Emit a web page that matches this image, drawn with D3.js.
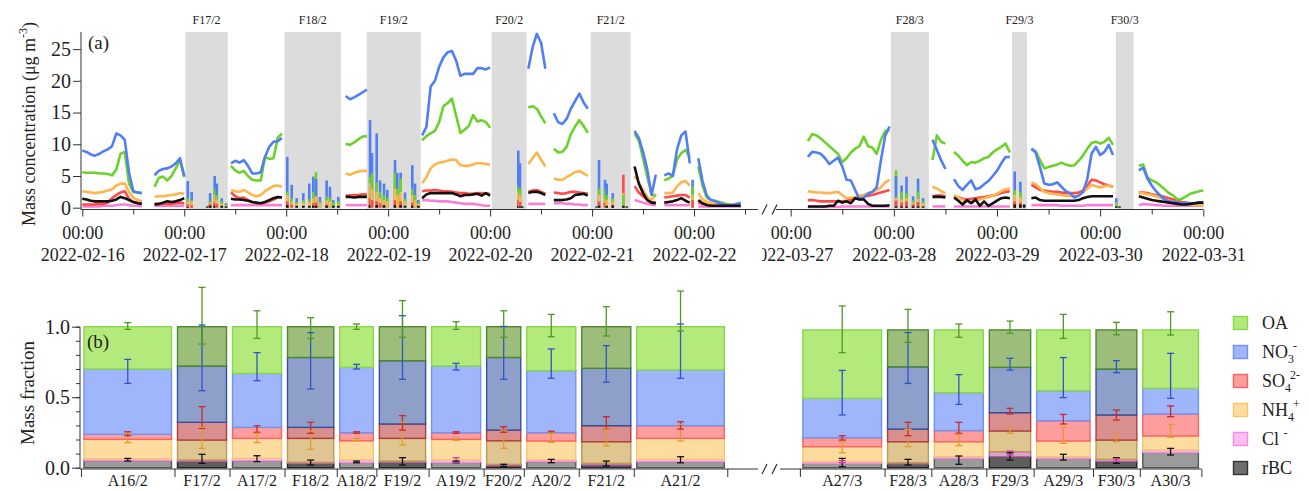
<!DOCTYPE html>
<html>
<head>
<meta charset="utf-8">
<script src="https://cdn.jsdelivr.net/npm/d3@7"></script>
<style>
  body { margin: 0; background: #fff; }
  text { font-family: "Liberation Serif", "Times New Roman", serif; fill: #222; }
</style>
</head>
<body>
<svg id="chart" width="1309" height="491"></svg>
<script>
// ---------- panel (a): hourly segments of continuous ambient data ----------
const segStart = [
  '2022-02-16 00:00', '2022-02-16 17:00', '2022-02-17 11:00', '2022-02-18 14:00',
  '2022-02-19 08:00', '2022-02-20 09:00', '2022-02-20 15:00', '2022-02-21 10:00',
  '2022-02-21 17:00', '2022-02-22 01:00',
  '2022-03-27 04:00', '2022-03-28 09:00', '2022-03-28 14:00', '2022-03-29 08:00',
  '2022-03-30 09:00'
];

const segNO3 = [
  [9.0, 8.8, 8.4, 8.2, 8.5, 8.9, 9.2, 9.7, 11.7, 11.4, 10.7, 5.5, 2.6, 2.4, 2.3],
  [5.1, 5.8, 6.1, 6.2, 6.5, 7.0, 7.8, 5.0],
  [7.0, 7.4, 7.1, 7.5, 6.6, 5.4, 5.4, 5.6, 8.0, 9.6, 10.4, 10.5, 11.0],
  [17.6, 17.1, 17.4, 17.8, 18.2, 18.6],
  [11.4, 12.7, 19.1, 20.0, 22.2, 23.7, 24.5, 24.7, 23.2, 20.8, 21.1, 21.1, 21.1, 22.0, 22.0, 21.8, 22.1],
  [21.9, 25.3, 27.4, 26.0, 21.9],
  [14.9, 13.5, 13.2, 14.0, 15.6, 16.8, 18.0, 16.6, 15.6],
  [12.1, 11.0, 8.8, 6.0, 2.0, 5.2],
  [5.1, 5.4, 5.0, 9.2, 11.4, 12.0, 7.0],
  [7.8, 4.2, 1.9, 1.2, 1.0, 0.7, 0.5, 0.4, 0.4, 0.6, 0.8],
  [8.0, 8.8, 8.7, 8.5, 7.8, 6.9, 7.4, 7.9, 6.5, 4.4, 4.3, 2.8, 1.3, 1.6, 2.2, 2.5, 3.2, 7.5, 11.4, 12.8],
  [10.7, 9.1, 7.5, 6.1],
  [4.5, 3.4, 2.8, 3.6, 4.3, 2.9, 3.1, 3.7, 4.2, 5.0, 5.8, 7.0, 8.0, 8.0],
  [9.3, 8.7, 6.4, 3.8, 3.6, 3.7, 4.0, 3.3, 2.6, 2.3, 1.6, 1.9, 2.5, 4.5, 8.5, 9.6, 8.3, 8.8, 9.9, 8.3],
  [5.9, 6.3, 4.6, 3.5, 2.6, 1.9, 1.3, 1.0, 0.9, 0.8, 0.7, 0.7, 0.7, 0.7, 0.8, 0.8]
];

const segOA = [
  [5.6, 5.5, 5.5, 5.5, 5.4, 5.4, 5.3, 5.1, 6.0, 8.5, 8.8, 3.8, 2.5, 2.4, 2.3],
  [3.3, 4.7, 4.9, 4.3, 5.0, 6.2, 7.5, 4.8],
  [6.6, 5.9, 5.5, 5.8, 5.0, 4.4, 4.3, 4.3, 8.0, 7.7, 7.8, 11.0, 11.7],
  [10.1, 9.9, 10.3, 10.8, 11.2, 11.3],
  [10.6, 11.3, 11.7, 12.1, 13.5, 16.0, 16.5, 17.2, 14.5, 11.8, 12.3, 12.9, 14.6, 13.6, 13.8, 13.5, 12.6],
  [15.8, 16.0, 15.6, 14.4, 13.3],
  [9.3, 8.7, 8.8, 9.6, 11.6, 12.8, 13.8, 12.9, 11.8],
  [11.7, 10.6, 7.8, 4.8, 2.2, 1.8],
  [4.3, 4.6, 5.0, 7.6, 8.6, 9.1, 8.0],
  [6.5, 3.5, 1.6, 1.2, 1.1, 0.9, 0.7, 0.5, 0.4, 0.5, 0.6],
  [10.5, 11.6, 11.4, 10.9, 10.3, 9.7, 9.1, 8.5, 7.2, 7.8, 8.7, 9.3, 9.7, 11.2, 9.7, 9.5, 8.5, 10.7, 12.1, 12.2],
  [7.5, 11.4, 10.4, 10.1],
  [8.8, 8.2, 7.4, 6.7, 7.2, 7.1, 7.4, 7.8, 8.0, 8.7, 9.2, 9.6, 10.1, 8.7],
  [9.3, 8.9, 7.5, 6.2, 6.4, 6.6, 6.8, 7.1, 6.8, 6.6, 6.7, 7.4, 8.2, 9.3, 10.2, 10.4, 10.1, 10.4, 11.0, 9.9],
  [6.6, 6.8, 4.8, 4.3, 4.0, 3.5, 2.9, 2.3, 1.9, 1.3, 1.4, 1.8, 2.2, 2.4, 2.6, 2.7]
];

const segNH4 = [
  [2.6, 2.5, 2.4, 2.3, 2.4, 2.5, 2.7, 2.9, 3.5, 3.8, 3.8, 2.5, 1.6, 1.2, 1.0],
  [1.7, 1.8, 1.8, 1.9, 2.0, 2.1, 2.3, 2.2],
  [2.8, 2.6, 2.5, 2.8, 2.4, 2.0, 1.8, 2.0, 2.6, 3.0, 3.4, 3.5, 3.3],
  [5.4, 5.2, 5.5, 5.7, 5.8, 5.8],
  [3.9, 4.8, 6.2, 6.8, 7.1, 7.2, 7.4, 7.6, 7.5, 6.7, 6.6, 6.6, 6.8, 7.0, 7.0, 6.9, 6.8],
  [6.9, 7.8, 8.7, 7.6, 6.5],
  [4.6, 4.4, 4.4, 4.8, 5.2, 5.6, 5.8, 5.4, 5.0],
  [5.0, 4.0, 2.8, 1.7, 1.2, 2.2],
  [2.3, 2.3, 2.4, 3.4, 4.0, 4.2, 3.5],
  [2.3, 1.3, 0.9, 0.7, 0.6, 0.5, 0.4, 0.4, 0.4, 0.4, 0.4],
  [2.6, 2.5, 2.4, 2.4, 2.3, 2.3, 2.4, 2.5, 2.0, 1.5, 1.6, 1.7, 1.9, 2.0, 2.3, 2.5, 2.8, 3.2, 4.0, 4.4],
  [3.3, 3.0, 2.6, 2.3],
  [2.0, 1.6, 1.2, 1.0, 1.0, 1.1, 1.3, 1.5, 1.7, 1.9, 2.2, 2.6, 2.9, 3.0],
  [4.0, 3.7, 3.1, 2.5, 2.3, 2.2, 2.1, 2.0, 1.9, 1.8, 1.8, 1.9, 2.4, 3.0, 3.6, 3.4, 3.2, 3.4, 3.5, 3.2],
  [2.3, 2.3, 2.1, 2.0, 1.8, 1.6, 1.3, 1.1, 0.9, 0.7, 0.6, 0.5, 0.5, 0.4, 0.4, 0.4]
];

const segSO4 = [
  [0.5, 0.5, 0.5, 0.5, 0.6, 0.6, 0.8, 1.5, 2.0, 2.4, 2.6, 1.4, 0.9, 0.8, 0.7],
  [0.6, 0.6, 0.6, 0.6, 0.6, 0.7, 0.8, 0.7],
  [2.4, 1.8, 1.5, 1.6, 1.2, 0.9, 0.7, 0.7, 0.8, 1.0, 1.3, 1.6, 1.6],
  [1.9, 1.9, 2.0, 2.0, 2.1, 2.1],
  [2.6, 2.7, 2.7, 2.8, 2.7, 2.6, 2.6, 2.5, 2.4, 2.3, 2.3, 2.2, 2.2, 2.3, 2.3, 2.2, 2.2],
  [2.5, 2.7, 2.8, 2.5, 2.2],
  [2.4, 2.3, 2.2, 2.3, 2.5, 2.5, 2.4, 2.3, 2.2],
  [3.4, 2.4, 1.8, 1.2, 0.9, 0.8],
  [1.6, 1.7, 1.8, 1.9, 2.0, 2.0, 1.6],
  [0.8, 0.6, 0.5, 0.4, 0.4, 0.4, 0.4, 0.4, 0.4, 0.4, 0.4],
  [1.2, 1.2, 1.1, 1.0, 1.0, 1.0, 1.0, 1.0, 1.0, 1.1, 1.3, 1.5, 1.6, 1.8, 1.9, 2.0, 2.2, 2.4, 2.6, 2.8],
  [1.8, 1.9, 1.9, 1.8],
  [1.8, 1.6, 1.4, 1.3, 1.4, 1.5, 1.6, 1.7, 1.8, 1.9, 2.1, 2.3, 2.5, 2.6],
  [3.6, 3.2, 2.8, 2.7, 2.6, 2.5, 2.5, 2.4, 2.3, 2.3, 2.3, 2.4, 2.7, 3.5, 4.4, 4.3, 4.0, 3.7, 3.5, 3.3],
  [2.4, 2.4, 2.3, 2.1, 2.0, 1.9, 1.7, 1.5, 1.3, 1.1, 0.9, 0.8, 0.7, 0.7, 0.7, 0.6]
];

const segRBC = [
  [1.4, 1.3, 1.1, 1.0, 1.0, 1.0, 1.0, 1.1, 1.3, 1.7, 1.5, 1.2, 0.9, 0.7, 0.6],
  [0.5, 0.6, 0.8, 1.0, 0.9, 1.0, 1.2, 1.5],
  [1.4, 1.3, 1.3, 1.2, 1.1, 0.9, 0.8, 0.7, 0.9, 1.2, 1.5, 1.7, 1.6],
  [1.7, 1.7, 1.6, 1.7, 1.7, 1.7],
  [1.5, 2.1, 2.3, 2.3, 2.3, 2.3, 2.3, 2.3, 2.1, 1.8, 2.0, 2.0, 2.1, 2.2, 1.9, 2.3, 1.9],
  [2.3, 2.5, 2.5, 2.3, 2.0],
  [1.2, 1.2, 1.2, 1.3, 1.5, 2.0, 2.1, 2.2, 1.9],
  [6.5, 3.8, 2.3, 1.2, 0.8, 0.7],
  [0.8, 0.9, 1.0, 1.2, 1.5, 1.1, 0.8],
  [1.2, 0.7, 0.4, 0.3, 0.3, 0.3, 0.3, 0.3, 0.3, 0.3, 0.3],
  [0.2, 0.2, 0.2, 0.2, 0.2, 0.3, 0.3, 1.1, 0.8, 1.0, 0.7, 1.5, 1.3, 1.3, 0.6, 0.3, 0.3, 0.3, 0.3, 0.4],
  [1.7, 1.7, 1.7, 1.6],
  [1.6, 1.1, 0.5, 1.2, 0.7, 1.3, 0.3, 1.0, 0.3, 0.7, 1.1, 1.5, 1.6, 1.5],
  [1.5, 1.6, 1.2, 1.1, 1.1, 1.1, 1.1, 1.1, 1.1, 1.1, 1.1, 1.2, 1.5, 1.7, 1.8, 1.8, 1.8, 1.8, 1.8, 1.8],
  [1.8, 1.6, 1.4, 1.2, 1.1, 1.0, 0.9, 0.8, 0.7, 0.6, 0.5, 0.5, 0.6, 0.7, 0.8, 0.8]
];

const segCl = [
  [0.2, 0.2, 0.2, 0.2, 0.2, 0.3, 0.3, 0.3, 0.4, 0.5, 0.5, 0.4, 0.3, 0.3, 0.2],
  [0.3, 0.3, 0.3, 0.3, 0.3, 0.3, 0.3, 0.3],
  [0.4, 0.4, 0.4, 0.4, 0.4, 0.4, 0.4, 0.4, 0.4, 0.4, 0.4, 0.4, 0.4],
  [0.4, 0.4, 0.4, 0.4, 0.4, 0.4],
  [1.2, 1.2, 1.1, 1.1, 1.0, 1.0, 1.0, 0.9, 0.8, 0.7, 0.6, 0.6, 0.6, 0.5, 0.4, 0.3, 0.3],
  [0.6, 0.6, 0.6, 0.6, 0.6],
  [0.7, 0.7, 0.7, 0.6, 0.6, 0.5, 0.5, 0.4, 0.4],
  [1.2, 1.0, 0.8, 0.6, 0.5, 0.4],
  [0.4, 0.4, 0.4, 0.4, 0.4, 0.4, 0.4],
  [0.2, 0.2, 0.2, 0.2, 0.2, 0.2, 0.2, 0.2, 0.2, 0.2, 0.2],
  [0.1, 0.1, 0.1, 0.1, 0.1, 0.1, 0.1, 0.1, 0.2, 0.2, 0.2, 0.2, 0.2, 0.2, 0.2, 0.2, 0.2, 0.2, 0.2, 0.2],
  [0.2, 0.2, 0.2, 0.2],
  [0.2, 0.2, 0.2, 0.2, 0.2, 0.2, 0.2, 0.2, 0.2, 0.2, 0.2, 0.2, 0.2, 0.2],
  [0.4, 0.4, 0.4, 0.4, 0.4, 0.4, 0.4, 0.3, 0.3, 0.3, 0.3, 0.3, 0.3, 0.4, 0.4, 0.4, 0.4, 0.4, 0.4, 0.4],
  [0.4, 0.6, 0.5, 0.5, 0.4, 0.4, 0.3, 0.3, 0.3, 0.3, 0.3, 0.3, 0.3, 0.3, 0.3, 0.3]
];

// short bursts measured during the flight periods (null = not shown)
const spikeTime = [
  '2022-02-17 00:50', '2022-02-17 01:45', '2022-02-17 05:25', '2022-02-17 06:05', '2022-02-17 07:10',
  '2022-02-17 07:40', '2022-02-17 08:50', '2022-02-17 09:50',
  '2022-02-18 00:15', '2022-02-18 01:18', '2022-02-18 02:28', '2022-02-18 04:01', '2022-02-18 05:26',
  '2022-02-18 06:23', '2022-02-18 07:01', '2022-02-18 07:57', '2022-02-18 09:31', '2022-02-18 10:18',
  '2022-02-18 11:05', '2022-02-18 12:16',
  '2022-02-18 19:44', '2022-02-18 20:12', '2022-02-18 21:18', '2022-02-18 22:05', '2022-02-18 23:01',
  '2022-02-18 23:48', '2022-02-19 01:37', '2022-02-19 02:09', '2022-02-19 02:57', '2022-02-19 03:58',
  '2022-02-19 05:41', '2022-02-19 06:19', '2022-02-19 07:06',
  '2022-02-20 06:38', '2022-02-20 07:02', '2022-02-20 07:35',
  '2022-02-21 01:05', '2022-02-21 01:38', '2022-02-21 03:03', '2022-02-21 03:27', '2022-02-21 04:52',
  '2022-02-21 07:22', '2022-02-21 08:10', '2022-02-21 23:40',
  '2022-03-28 00:30', '2022-03-28 01:48', '2022-03-28 02:57', '2022-03-28 04:29', '2022-03-28 05:38',
  '2022-03-28 06:48',
  '2022-03-29 04:07', '2022-03-29 05:26', '2022-03-29 06:20',
  '2022-03-30 03:45', '2022-03-30 04:30'
];
const spikeNO3 = [4.2, 2.5, null, 2.3, 5.0, 3.8, 1.5, 0.7,
  8.0, 3.6, 1.5, 2.3, 3.8, 4.9, 4.5, 1.7, 4.3, 3.3, 1.2, 1.7,
  13.8, 8.6, 11.7, 4.3, 3.8, 2.8, 7.5, 5.5, 5.5, 2.4, 6.7, 3.8, 1.2,
  9.0, 7.0, null,
  null, 7.5, 4.4, 3.8, 2.3, null, null, 4.4,
  5.0, 3.5, 4.9, 1.8, 4.6, 1.5,
  5.7, 4.1, null,
  1.5, null];
const spikeOA = [1.5, 1.2, null, 1.0, 3.0, 2.0, 1.0, 0.5,
  2.5, 1.5, 0.9, 1.2, 1.3, 2.5, 5.6, 1.0, 1.8, 1.5, 0.8, 1.0,
  4.9, 5.5, 4.0, 2.5, 2.0, 1.5, 5.5, 3.0, 4.6, 1.5, 3.0, 2.0, 0.8,
  3.4, 3.0, null,
  null, 3.0, 2.9, 2.0, 1.5, 2.0, null, 3.3,
  5.9, 2.5, 2.3, 1.2, 2.6, 1.0,
  2.8, 2.5, null,
  0.6, null];
const spikeNH4 = [1.0, 1.0, null, 0.8, 2.0, 1.3, 0.6, 0.4,
  2.0, 1.0, 0.6, 0.8, 0.9, 1.5, 1.8, 0.7, 1.2, 1.0, null, 0.6,
  3.9, 3.0, 2.5, 1.5, 1.2, 1.0, 3.0, 2.0, 2.5, 1.0, 2.0, 1.2, 0.6,
  2.6, 2.0, null,
  null, 2.0, 1.5, 1.2, 1.0, 2.3, null, 2.0,
  1.6, 1.3, 1.5, 0.8, 1.4, 0.7,
  2.0, 1.7, null,
  0.8, null];
const spikeSO4 = [0.5, 0.4, null, 0.6, 0.8, 0.6, null, null,
  1.0, 0.5, null, null, null, 0.7, 0.8, null, 0.5, null, null, null,
  1.5, 1.2, 1.0, 0.7, null, null, 1.2, null, 1.0, null, 0.8, null, null,
  1.2, 0.9, null,
  null, 1.0, 0.8, null, 0.5, 5.2, null, 1.2,
  1.1, 0.8, 1.0, 0.5, 0.9, null,
  1.0, 0.8, null,
  null, null];
const spikeCl = [0.1, null, null, null, null, null, null, null,
  null, null, null, null, null, null, null, null, null, null, null, null,
  null, null, null, null, null, null, null, null, null, null, null, null, null,
  null, 0.3, null,
  null, null, null, null, null, null, null, null,
  null, null, null, null, null, null,
  null, null, null,
  null, null];
const spikeRBC = [0.1, null, 0.2, 0.3, 0.3, null, 0.3, 0.2,
  0.4, null, 0.3, 0.3, 0.3, 0.3, 0.3, null, 0.3, null, 0.3, 0.3,
  0.4, null, 0.4, null, 0.4, null, 0.4, null, 0.4, 0.3, 0.3, null, 0.3,
  0.3, 0.2, 0.2,
  0.2, 0.3, null, 0.3, 0.3, 0.3, 0.2, null,
  0.2, 0.2, 0.2, 0.2, 0.2, 0.2,
  0.5, 0.5, 0.5,
  0.2, 0.2];

// shaded flight periods
const bandLabel = ['F17/2', 'F18/2', 'F19/2', 'F20/2', 'F21/2', 'F28/3', 'F29/3', 'F30/3'];
const bandStart = ['2022-02-17 00:15', '2022-02-17 23:35', '2022-02-18 18:57', '2022-02-20 00:22',
  '2022-02-20 23:40', '2022-03-27 23:18', '2022-03-29 03:29', '2022-03-30 03:39'];
const bandEnd = ['2022-02-17 10:15', '2022-02-18 12:54', '2022-02-19 07:40', '2022-02-20 08:36',
  '2022-02-21 09:06', '2022-03-28 08:08', '2022-03-29 06:58', '2022-03-30 07:46'];

const concTicks = [0, 5, 10, 15, 20, 25];

// ---------- panel (b): mass fractions ----------
const barCats = ['A16/2', 'F17/2', 'A17/2', 'F18/2', 'A18/2', 'F19/2', 'A19/2', 'F20/2', 'A20/2', 'F21/2', 'A21/2',
  'A27/3', 'F28/3', 'A28/3', 'F29/3', 'A29/3', 'F30/3', 'A30/3'];
const fracRBC = [.050, .043, .050, .031, .038, .038, .038, .014, .043, .019, .043, .031, .026, .066, .078, .066, .043, .109];
const fracCl  = [.012, .012, .016, .007, .017, .009, .017, .010, .012, .012, .016, .012, .009, .012, .036, .012, .016, .016];
const fracNH4 = [.139, .141, .142, .170, .136, .161, .146, .167, .134, .153, .149, .106, .149, .106, .146, .111, .137, .100];
const fracSO4 = [.036, .126, .078, .078, .057, .102, .047, .076, .059, .114, .090, .064, .090, .079, .130, .144, .178, .156];
const fracNO3 = [.463, .399, .383, .496, .464, .449, .473, .515, .440, .407, .395, .279, .442, .269, .322, .213, .326, .182];
const fracOA  = [.300, .279, .331, .218, .288, .241, .279, .218, .312, .295, .307, .485, .261, .445, .265, .431, .277, .414];

// error bars, [low, high] in mass fraction
const errOA = [[.981, 1.029], [.877, 1.279], [.917, 1.113], [.917, 1.064], [.981, 1.019], [.925, 1.185], [.981, 1.035],
  [.925, 1.113], [.929, 1.087], [.934, 1.142], [.969, 1.253], [.816, 1.147], [.889, 1.123], [.925, 1.019], [.953, 1.040],
  [.917, 1.087], [.943, 1.031], [.941, 1.106]];
const errNO3 = [[.598, .768], [.546, 1.012], [.617, .816], [.558, .958], [.700, .733], [.627, 1.078], [.693, .740],
  [.627, 1.002], [.634, .842], [.606, .866], [.634, 1.019], [.374, .690], [.598, .958], [.449, .660], [.693, .776],
  [.497, .781], [.674, .759], [.492, .811]];
const errSO4 = [[.227, .255], [.279, .433], [.251, .298], [.244, .322], [.244, .255], [.267, .369], [.244, .255],
  [.251, .291], [.244, .259], [.274, .362], [.274, .326], [.196, .227], [.227, .322], [.244, .322], [.381, .421],
  [.310, .378], [.338, .409], [.362, .438]];
const errNH4 = [[.178, .244], [.137, .286], [.178, .244], [.130, .260], [.191, .208], [.161, .322], [.194, .210],
  [.137, .267], [.180, .244], [.154, .274], [.189, .307], [.106, .184], [.149, .272], [.156, .236], [.244, .284],
  [.173, .286], [.184, .236], [.215, .307]];
const errCl = [null, null, null, null, null, null, [.038, .071], null, null, null, null, [.035, .050], null, null,
  [.090, .118], null, [.045, .065], null];
const errRBC = [[.047, .066], [.031, .095], [.043, .085], [.019, .054], [.035, .047], [.019, .071], [.035, .047],
  [.007, .024], [.035, .059], [.012, .047], [.035, .078], [.007, .066], [.019, .059], [.024, .083], [.054, .106],
  [.054, .095], [.031, .071], [.090, .137]];

const fracTicks = [0, 0.5, 1.0];

// ---------- layout ----------
const parseT = d3.timeParse('%Y-%m-%d %H:%M');
const svg = d3.select('#chart');
const axisColor = '#333';

const species = {
  OA:  { line: '#6cd12b', fillA: '#b4ea7c', edgeA: '#86d946', fillF: '#9dbe7b', edgeF: '#4a8a2a', err: '#4f9a22' },
  NO3: { line: '#4f7ef7', fillA: '#9fb5fc', edgeA: '#6f93f4', fillF: '#8e9fca', edgeF: '#34509e', err: '#2f55c8' },
  SO4: { line: '#ff4a4a', fillA: '#fe9d9d', edgeA: '#f76262', fillF: '#d98f8f', edgeF: '#b23c3c', err: '#cc2a2a' },
  NH4: { line: '#ffb54d', fillA: '#fedc9f', edgeA: '#fac46a', fillF: '#dfc590', edgeF: '#c4974e', err: '#e49a2c' },
  Cl:  { line: '#f77fd7', fillA: '#ffbdf3', edgeA: '#f38de6', fillF: '#d9a3cc', edgeF: '#b065a3', err: '#c83aa8' },
  rBC: { line: '#111111', fillA: '#9b9b9b', edgeA: '#555555', fillF: '#5e5e5e', edgeF: '#222222', err: '#111111' }
};

// ---------- panel (a) ----------
const xA = d3.scaleTime().domain([parseT('2022-02-16 00:00'), parseT('2022-02-22 12:00')]).range([82.3, 745]);
const xB = d3.scaleTime().domain([parseT('2022-03-27 00:00'), parseT('2022-03-31 00:00')]).range([790.7, 1203.3]);
const splitT = parseT('2022-03-01 00:00');
const xOf = t => (t < splitT ? xA(t) : xB(t));
const yTop = d3.scaleLinear().domain([0, 27.7]).range([207.7, 32]);
const axisYTop = 209.5;

svg.append('defs').append('clipPath').attr('id', 'clipRight')
  .append('rect').attr('x', 762).attr('y', 0).attr('width', 560).attr('height', 491);

const bands = bandLabel.map((l, i) => ({ label: l, t0: parseT(bandStart[i]), t1: parseT(bandEnd[i]) }));
svg.append('g').selectAll('rect').data(bands).join('rect')
  .attr('x', d => xOf(d.t0))
  .attr('width', d => xOf(d.t1) - xOf(d.t0))
  .attr('y', yTop(27.7))
  .attr('height', axisYTop - yTop(27.7))
  .attr('fill', '#dcdcdc');

svg.append('g').selectAll('text').data(bands).join('text')
  .attr('x', d => (xOf(d.t0) + xOf(d.t1)) / 2)
  .attr('y', 24)
  .attr('text-anchor', 'middle')
  .style('font-size', '12px')
  .text(d => d.label);

// continuous lines
const line = d3.line()
  .defined(d => d.v != null)
  .x(d => xOf(d.t))
  .y(d => yTop(d.v));

const lineOrder = [
  { key: 'Cl', segs: segCl }, { key: 'SO4', segs: segSO4 }, { key: 'NH4', segs: segNH4 },
  { key: 'OA', segs: segOA }, { key: 'NO3', segs: segNO3 }, { key: 'rBC', segs: segRBC }
];
const gLines = svg.append('g');
lineOrder.forEach(s => {
  s.segs.forEach((vals, i) => {
    const t0 = parseT(segStart[i]);
    const pts = vals.map((v, k) => ({ t: d3.timeHour.offset(t0, k), v }));
    gLines.append('path').datum(pts)
      .attr('d', line)
      .attr('fill', 'none')
      .attr('stroke', species[s.key].line)
      .attr('stroke-width', 2.6)
      .attr('stroke-linejoin', 'round');
  });
});

// flight bursts: one vertical stroke per species, tallest drawn first
const spikeSets = [
  { key: 'NO3', vals: spikeNO3 }, { key: 'OA', vals: spikeOA }, { key: 'NH4', vals: spikeNH4 },
  { key: 'SO4', vals: spikeSO4 }, { key: 'Cl', vals: spikeCl }, { key: 'rBC', vals: spikeRBC }
];
const spikeMarks = [];
spikeTime.forEach((ts, i) => {
  const t = parseT(ts);
  spikeSets
    .filter(s => s.vals[i] != null)
    .map(s => ({ t, v: s.vals[i], key: s.key }))
    .sort((a, b) => b.v - a.v)
    .forEach(d => spikeMarks.push(d));
});
svg.append('g').selectAll('line').data(spikeMarks).join('line')
  .attr('x1', d => xOf(d.t)).attr('x2', d => xOf(d.t))
  .attr('y1', d => yTop(0)).attr('y2', d => yTop(d.v))
  .attr('stroke', d => species[d.key].line)
  .attr('stroke-width', 2.6);

// y axis (a)
const gyA = svg.append('g').attr('transform', 'translate(81,0)')
  .call(d3.axisLeft(yTop).tickValues(concTicks).tickSize(8).tickPadding(2).tickSizeOuter(0));
gyA.select('.domain').remove();
gyA.selectAll('.tick line').attr('stroke', axisColor);
gyA.selectAll('.tick text').style('font-size', '20px');
svg.append('line').attr('x1', 81).attr('x2', 81).attr('y1', yTop(27.7)).attr('y2', axisYTop)
  .attr('stroke', axisColor);

// x axes (a)
function dayAxis(scale, majors, minors, clip) {
  const gMin = svg.append('g').attr('transform', `translate(0,${axisYTop})`)
    .call(d3.axisBottom(scale).tickValues(minors).tickSize(5).tickFormat(''));
  gMin.select('.domain').remove();
  gMin.selectAll('.tick line').attr('stroke', axisColor);
  const wrap = svg.append('g');
  if (clip) wrap.attr('clip-path', 'url(#clipRight)');
  const gMaj = wrap.append('g').attr('transform', `translate(0,${axisYTop})`)
    .call(d3.axisBottom(scale).tickValues(majors).tickSize(7).tickFormat(''));
  gMaj.select('.domain').remove();
  gMaj.selectAll('.tick line').attr('stroke', axisColor);
  gMaj.selectAll('.tick text').remove();
  const txt = gMaj.selectAll('.tick').append('text')
    .attr('text-anchor', 'middle')
    .style('font-size', '18px');
  txt.append('tspan').attr('x', 0).attr('y', 29).text(d => d3.timeFormat('%H:%M')(d));
  txt.append('tspan').attr('x', 0).attr('y', 51.5).text(d => d3.timeFormat('%Y-%m-%d')(d));
}
const majorsA = d3.timeDay.range(parseT('2022-02-16 00:00'), parseT('2022-02-22 01:00'));
const majorsB = d3.timeDay.range(parseT('2022-03-27 00:00'), parseT('2022-03-31 01:00'));
dayAxis(xA, majorsA, majorsA.map(d => d3.timeHour.offset(d, 12)), false);
dayAxis(xB, majorsB, majorsB.slice(0, -1).map(d => d3.timeHour.offset(d, 12)), true);

function axisWithBreak(y, x0, x1, x2, x3, breakX) {
  svg.append('line').attr('x1', x0).attr('x2', x1).attr('y1', y).attr('y2', y).attr('stroke', axisColor);
  svg.append('line').attr('x1', x2).attr('x2', x3).attr('y1', y).attr('y2', y).attr('stroke', axisColor);
  [breakX, breakX + 10].forEach(bx => {
    svg.append('line').attr('x1', bx).attr('x2', bx + 5).attr('y1', y + 5).attr('y2', y - 5)
      .attr('stroke', axisColor).attr('stroke-width', 1.2);
  });
}
axisWithBreak(axisYTop, 81, 758, 776, xB.range()[1], 762);

svg.append('text').attr('x', 88).attr('y', 49).style('font-size', '19px').text('(a)');

const yTitleA = svg.append('text')
  .attr('transform', 'translate(35,124) rotate(-90)')
  .attr('text-anchor', 'middle')
  .style('font-size', '18px');
yTitleA.append('tspan').text('Mass concentration (μg m');
yTitleA.append('tspan').attr('dy', -8).style('font-size', '12px').text('-3');
yTitleA.append('tspan').attr('dy', 8).text(')');

// ---------- panel (b) ----------
const slotFeb = [1.7, 1, 1, 0.95, 0.72, 0.95, 1, 0.73, 1, 1, 1.7];
const slotMar = [1.54, 0.85, 1.0, 0.86, 1.08, 0.85, 1.12];
const slotGap = 1.32;
const slots = [];
let u = 0;
slotFeb.forEach(w => { slots.push([u, u + w]); u += w; });
u += slotGap;
slotMar.forEach(w => { slots.push([u, u + w]); u += w; });
const edges = Array.from(new Set(slots.flat()));

const xb = d3.scaleLinear().domain([0, u]).range([81, 1201.4]);
const yb = d3.scaleLinear().domain([0, 1]).range([467.7, 326.7]);
const axisYBot = 469;

const keys = ['rBC', 'Cl', 'NH4', 'SO4', 'NO3', 'OA'];
const fracs = { rBC: fracRBC, Cl: fracCl, NH4: fracNH4, SO4: fracSO4, NO3: fracNO3, OA: fracOA };
const errs = { rBC: errRBC, Cl: errCl, NH4: errNH4, SO4: errSO4, NO3: errNO3, OA: errOA };
const rows = barCats.map((c, i) => {
  const r = { cat: c, i };
  keys.forEach(k => { r[k] = fracs[k][i]; });
  return r;
});
const stacked = d3.stack().keys(keys)(rows);

const inset = 3;
const gBars = svg.append('g');
stacked.forEach(layer => {
  const sp = species[layer.key];
  gBars.selectAll(null).data(layer).join('rect')
    .attr('x', d => xb(slots[d.data.i][0]) + inset)
    .attr('width', d => xb(slots[d.data.i][1]) - xb(slots[d.data.i][0]) - 2 * inset)
    .attr('y', d => yb(d[1]))
    .attr('height', d => yb(d[0]) - yb(d[1]))
    .attr('fill', d => d.data.cat[0] === 'F' ? sp.fillF : sp.fillA)
    .attr('stroke', d => d.data.cat[0] === 'F' ? sp.edgeF : sp.edgeA)
    .attr('stroke-width', 1.4);
});

const errMarks = [];
keys.forEach(k => {
  errs[k].forEach((e, i) => {
    if (e) errMarks.push({ k, i, lo: e[0], hi: e[1] });
  });
});
const cx = d => (xb(slots[d.i][0]) + xb(slots[d.i][1])) / 2;
const gErr = svg.append('g');
gErr.selectAll('line.v').data(errMarks).join('line').attr('class', 'v')
  .attr('x1', cx).attr('x2', cx)
  .attr('y1', d => yb(d.lo)).attr('y2', d => yb(d.hi))
  .attr('stroke', d => species[d.k].err).attr('stroke-width', 1.3);
['lo', 'hi'].forEach(end => {
  gErr.selectAll('line.' + end).data(errMarks).join('line').attr('class', end)
    .attr('x1', d => cx(d) - 3.5).attr('x2', d => cx(d) + 3.5)
    .attr('y1', d => yb(d[end])).attr('y2', d => yb(d[end]))
    .attr('stroke', d => species[d.k].err).attr('stroke-width', 1.3);
});

// y axis (b)
const gyMinor = svg.append('g').attr('transform', 'translate(80,0)')
  .call(d3.axisLeft(yb).tickValues(d3.range(0, 11).map(i => i / 10)).tickSize(4).tickFormat(''));
gyMinor.select('.domain').remove();
gyMinor.selectAll('.tick line').attr('stroke', axisColor);
const gyB = svg.append('g').attr('transform', 'translate(80,0)')
  .call(d3.axisLeft(yb).tickValues(fracTicks).tickSize(8).tickPadding(2).tickFormat(d3.format('.1f')));
gyB.select('.domain').remove();
gyB.selectAll('.tick line').attr('stroke', axisColor);
gyB.selectAll('.tick text').style('font-size', '20px');
svg.append('line').attr('x1', 80).attr('x2', 80).attr('y1', yb(1.0)).attr('y2', axisYBot).attr('stroke', axisColor);

// x axis (b)
const gxB = svg.append('g').attr('transform', `translate(0,${axisYBot})`)
  .call(d3.axisBottom(xb).tickValues(edges).tickSize(8).tickFormat(''));
gxB.select('.domain').remove();
gxB.selectAll('.tick line').attr('stroke', axisColor);
axisWithBreak(axisYBot, 80, 758, 780, xb.range()[1], 762);

svg.append('g').selectAll('text').data(barCats).join('text')
  .attr('x', (d, i) => (xb(slots[i][0]) + xb(slots[i][1])) / 2)
  .attr('y', 486)
  .attr('text-anchor', 'middle')
  .style('font-size', '16px')
  .text(d => d);

svg.append('text').attr('x', 87).attr('y', 348).style('font-size', '19px').text('(b)');
svg.append('text')
  .attr('transform', 'translate(34,393) rotate(-90)')
  .attr('text-anchor', 'middle')
  .style('font-size', '19px')
  .text('Mass fraction');

// legend
const legendItems = [
  { key: 'OA', parts: [['OA', 0]] },
  { key: 'NO3', parts: [['NO', 0], ['3', 1], ['-', -1]] },
  { key: 'SO4', parts: [['SO', 0], ['4', 1], ['2-', -1]] },
  { key: 'NH4', parts: [['NH', 0], ['4', 1], ['+', -1]] },
  { key: 'Cl', parts: [['Cl ', 0], ['-', -1]] },
  { key: 'rBC', parts: [['rBC', 0]] }
];
const legendY = d3.scalePoint().domain(legendItems.map(d => d.key)).range([323, 468]);
const gLeg = svg.append('g');
legendItems.forEach(item => {
  const sp = species[item.key];
  const y0 = legendY(item.key);
  gLeg.append('rect')
    .attr('x', 1233.5).attr('y', y0 - 6.5).attr('width', 14).attr('height', 13)
    .attr('fill', item.key === 'rBC' ? '#6e6e6e' : sp.fillA)
    .attr('stroke', item.key === 'rBC' ? '#333' : sp.edgeA)
    .attr('stroke-width', 1.4);
  const t = gLeg.append('text').attr('x', 1262).attr('y', y0 + 6).style('font-size', '18px');
  let shift = 0;
  item.parts.forEach(([str, kind]) => {
    const target = kind === 1 ? 5 : kind === -1 ? -8 : 0;
    const ts = t.append('tspan').attr('dy', target - shift).text(str);
    if (kind !== 0) ts.style('font-size', '12px');
    if (kind === -1 && item.parts.length === 3) ts.attr('dx', -1);
    shift = target;
  });
});
</script>
</body>
</html>
